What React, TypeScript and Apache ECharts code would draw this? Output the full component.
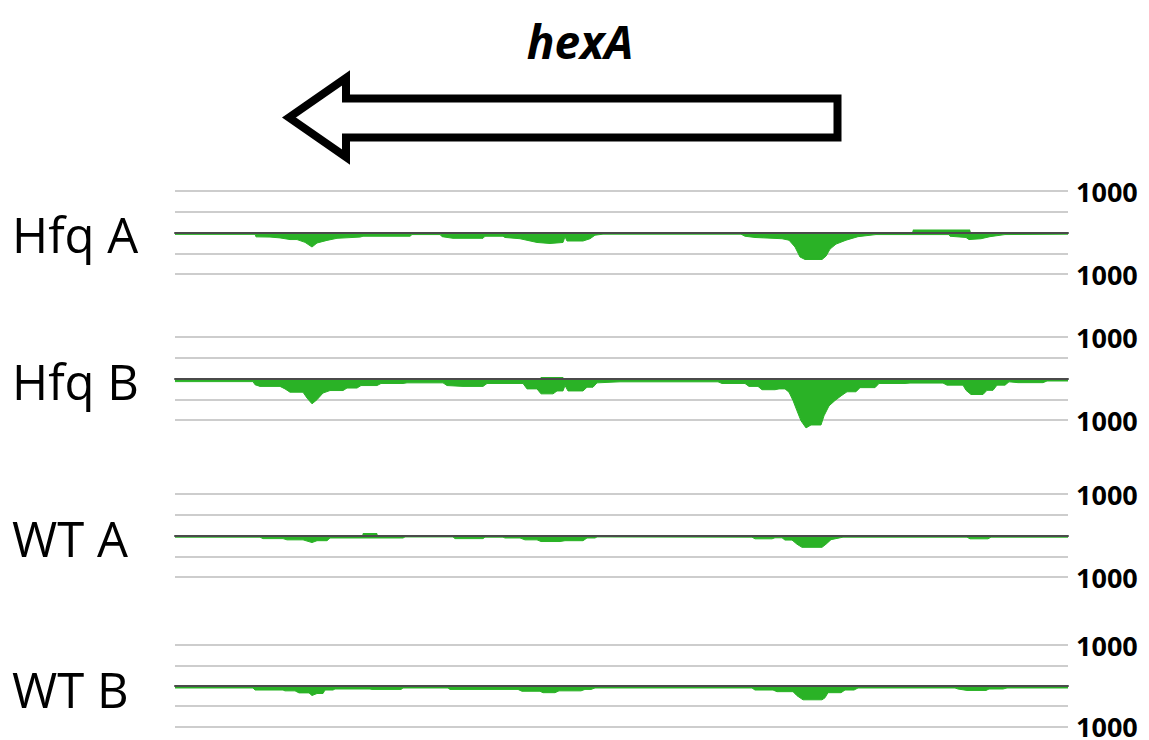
import React, { useEffect, useRef } from "react";
import * as echarts from "echarts";

// Track names (left labels)
const trackNames = ["Hfq A", "Hfq B", "WT A", "WT B"];
const geneName = "hexA";
const edgeTickLabel = "1000";

// Coverage, position (relative units 0..893) vs. reads; minus strand drawn negative
const hfqAMinus: number[][] = [
  [0, -45], [80, -45], [81, -105], [95, -110], [105, -130], [115, -170], [122, -170], [130, -237],
  [137, -350], [142, -253], [152, -190], [162, -140], [185, -110], [188, -90], [235, -90], [237, -50],
  [265, -50], [267, -100], [278, -140], [308, -140], [310, -90], [328, -90], [330, -120], [345, -150],
  [362, -240], [375, -265], [388, -240], [390, -100], [392, -205], [408, -205], [415, -150], [420, -65],
  [428, -40], [566, -40], [570, -90], [580, -120], [607, -150], [614, -185], [620, -350], [625, -590],
  [630, -650], [647, -650], [651, -570], [655, -400], [661, -280], [671, -185], [683, -100], [701, -50],
  [774, -50], [775, -90], [791, -120], [794, -170], [806, -150], [815, -100], [830, -50], [893, -40],
];
const hfqAPlus: number[][] = [
  [0, 0], [737, 0], [738, 70], [795, 70], [796, 0], [893, 0],
];

const hfqBMinus: number[][] = [
  [0, -75], [78, -75], [80, -150], [85, -190], [105, -190], [110, -250], [115, -330], [128, -330],
  [132, -470], [137, -610], [142, -510], [148, -350], [155, -290], [168, -290], [172, -230], [182, -230],
  [186, -170], [202, -170], [206, -120], [228, -120], [232, -105], [268, -105], [272, -170], [288, -190],
  [308, -190], [312, -120], [348, -120], [352, -250], [362, -250], [366, -370], [378, -370], [382, -300],
  [388, -300], [390, -170], [393, -300], [408, -300], [412, -210], [418, -210], [422, -105], [445, -80],
  [543, -80], [547, -120], [570, -120], [574, -190], [583, -190], [587, -270], [600, -270], [604, -250],
  [610, -250], [614, -330], [618, -530], [622, -780], [626, -1020], [631, -1190], [636, -1120], [646, -1120],
  [649, -900], [654, -660], [660, -530], [666, -420], [672, -320], [681, -320], [685, -220], [700, -220],
  [704, -120], [730, -120], [735, -110], [768, -110], [772, -160], [788, -160], [791, -285], [796, -385],
  [808, -385], [812, -285], [818, -285], [822, -160], [830, -160], [834, -80], [843, -100], [868, -100],
  [872, -60], [893, -60],
];
const hfqBPlus: number[][] = [
  [0, 0], [365, 0], [366, 35], [388, 35], [389, 0], [893, 0],
];

const wtAMinus: number[][] = [
  [0, -40], [85, -40], [88, -75], [108, -75], [112, -105], [128, -105], [137, -170], [142, -125],
  [152, -125], [155, -60], [228, -60], [230, -35], [278, -35], [280, -75], [308, -75], [310, -40],
  [328, -40], [330, -60], [345, -60], [350, -105], [362, -105], [366, -145], [385, -145], [390, -125],
  [408, -125], [412, -60], [420, -60], [422, -35], [577, -40], [580, -80], [597, -80], [600, -55],
  [607, -55], [610, -110], [617, -110], [622, -210], [627, -285], [647, -285], [651, -210], [656, -100],
  [668, -40], [792, -40], [795, -80], [813, -80], [816, -40], [893, -40],
];
const wtAPlus: number[][] = [
  [0, 0], [187, 0], [188, 60], [202, 60], [203, 0], [893, 0],
];

const wtBMinus: number[][] = [
  [0, -55], [78, -55], [80, -105], [108, -105], [110, -125], [120, -125], [124, -175], [134, -175],
  [137, -240], [142, -190], [148, -190], [150, -105], [158, -105], [160, -80], [195, -80], [197, -90],
  [226, -90], [228, -55], [273, -55], [275, -90], [343, -90], [347, -135], [365, -135], [368, -170],
  [380, -170], [384, -125], [406, -125], [410, -90], [416, -90], [420, -55], [577, -55], [580, -105],
  [598, -105], [602, -145], [618, -145], [622, -245], [628, -345], [647, -345], [650, -295], [653, -170],
  [666, -170], [670, -105], [679, -105], [683, -55], [780, -55], [783, -80], [792, -115], [811, -115],
  [814, -80], [828, -80], [832, -55], [893, -55],
];
const wtBPlus: number[][] = [
  [0, 0], [893, 0],
];

const minusSeries = [hfqAMinus, hfqBMinus, wtAMinus, wtBMinus];
const plusSeries = [hfqAPlus, hfqBPlus, wtAPlus, wtBPlus];

// Layout
const GRID_LEFT = 175;
const GRID_WIDTH = 893;
const gridTops = [191, 337, 494, 645];
const GRID_HEIGHT = 83;
const labelYs = [234, 381, 538, 689];
const GREEN = "#2ab226";

export default function App() {
  const ref = useRef<HTMLDivElement>(null);

  useEffect(() => {
    if (!ref.current) return;
    const chart = echarts.init(ref.current, undefined, { renderer: "svg" });

    const grids = gridTops.map((top) => ({
      left: GRID_LEFT,
      width: GRID_WIDTH,
      top,
      height: GRID_HEIGHT,
      containLabel: false,
    }));

    const xAxes = gridTops.map((_, i) => ({
      type: "value" as const,
      gridIndex: i,
      min: 0,
      max: 893,
      z: 5,
      axisLine: { show: true, onZero: true, lineStyle: { color: "#4a4a4a", width: 2 } },
      axisTick: { show: false },
      axisLabel: { show: false },
      splitLine: { show: false },
    }));

    const yAxes = gridTops.map((_, i) => ({
      type: "value" as const,
      gridIndex: i,
      position: "right" as const,
      min: -1000,
      max: 1000,
      interval: 500,
      axisLine: { show: false },
      axisTick: { show: false },
      axisLabel: {
        show: true,
        margin: 8,
        color: "#000",
        fontFamily: "Open Sans",
        fontWeight: "bold" as const,
        fontSize: 27,
        lineHeight: 20,
        formatter: (v: number) => (Math.abs(v) === 1000 ? edgeTickLabel : ""),
      },
      splitLine: {
        show: true,
        lineStyle: { color: ["#bdbdbd", "#bdbdbd", "#4a4a4a", "#bdbdbd", "#bdbdbd"], width: 1.5 },
      },
    }));

    const series: any[] = [];
    gridTops.forEach((_, i) => {
      series.push({
        type: "line",
        name: trackNames[i] + " -",
        xAxisIndex: i,
        yAxisIndex: i,
        data: minusSeries[i],
        showSymbol: false,
        symbol: "none",
        clip: false,
        lineStyle: { color: GREEN, width: 1 },
        areaStyle: { color: GREEN, opacity: 1 },
        z: 2,
      });
      series.push({
        type: "line",
        name: trackNames[i] + " +",
        xAxisIndex: i,
        yAxisIndex: i,
        data: plusSeries[i],
        showSymbol: false,
        symbol: "none",
        clip: false,
        lineStyle: { color: GREEN, width: 0 },
        areaStyle: { color: GREEN, opacity: 1 },
        z: 2,
      });
    });

    const graphic: any[] = [
      {
        type: "text",
        x: 580,
        y: 41,
        style: {
          text: geneName,
          fill: "#000",
          font: "italic bold 46px 'Open Sans'",
          textAlign: "center",
          textVerticalAlign: "middle",
        },
      },
      {
        type: "polygon",
        shape: {
          points: [
            [289, 117.5],
            [346, 78],
            [346, 98.5],
            [837.5, 98.5],
            [837.5, 137.5],
            [346, 137.5],
            [346, 157],
          ],
        },
        style: { fill: "#fff", stroke: "#000", lineWidth: 8, lineJoin: "miter", miterLimit: 10 },
      },
      ...trackNames.map((name, i) => ({
        type: "text",
        x: 12,
        y: labelYs[i],
        style: {
          text: name,
          fill: "#000",
          font: "49px 'Open Sans'",
          textAlign: "left",
          textVerticalAlign: "middle",
        },
      })),
    ];

    chart.setOption({
      animation: false,
      backgroundColor: "#fff",
      grid: grids,
      xAxis: xAxes,
      yAxis: yAxes,
      series,
      graphic,
    });

    return () => chart.dispose();
  }, []);

  return (
    <div
      ref={ref}
      style={{ position: "fixed", left: 0, top: 0, width: 1149, height: 740, background: "#fff" }}
    />
  );
}
